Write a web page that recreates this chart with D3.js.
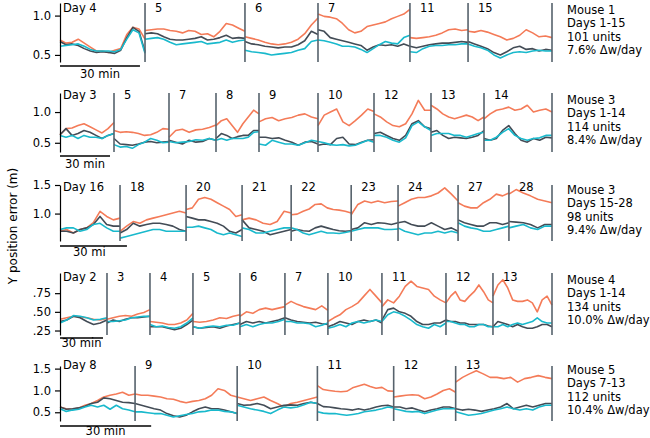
<!DOCTYPE html>
<html lang="en">
<head>
<meta charset="UTF-8">
<title>Y position error across recording days</title>
<script src="https://d3js.org/d3.v7.min.js"></script>
<style>
  body { margin: 0; background: #fff; }
  text { font-family: "DejaVu Sans", sans-serif; font-size: 11.5px; fill: #000; }
  .axis path, .axis line { stroke: #000; stroke-width: 1.2px; }
  .axis text { font-size: 11.5px; }
  .divider { stroke: #56626c; stroke-width: 1.6px; }
  .trace { fill: none; stroke-width: 1.6px; stroke-linejoin: round; }
  .scalebar { stroke: #000; stroke-width: 1.5px; }
</style>
</head>
<body>
<script>
// ---- data: one block per mouse / row ----
// day labels, session length (min), then one array of samples per session

const m1Days = ["Day 4", "5", "6", "7", "11", "15"];
const m1Minutes = [31.9, 37.5, 27.4, 34.5, 21.8, 31.5];
const m1Orange = [
  [0.69,0.65,0.66,0.70,0.65,0.60,0.55,0.55,0.53,0.56,0.58,0.76,0.85,0.83,0.70],
  [0.81,0.82,0.83,0.83,0.81,0.80,0.78,0.81,0.80,0.76,0.77,0.73,0.80,0.90,0.88,0.84,0.80],
  [0.73,0.71,0.69,0.66,0.64,0.63,0.64,0.66,0.70,0.77,0.88,0.97],
  [1.02,0.99,0.98,0.96,0.90,0.82,0.78,0.80,0.86,0.88,0.90,0.92,0.96,0.99,1.02,1.08],
  [0.72,0.71,0.72,0.73,0.75,0.78,0.82,0.83,0.81,0.82],
  [0.80,0.79,0.81,0.79,0.76,0.73,0.69,0.71,0.75,0.82,0.78,0.73,0.74,0.72]
];
const m1Slate = [
  [0.67,0.63,0.64,0.62,0.58,0.55,0.53,0.54,0.53,0.52,0.56,0.72,0.85,0.80,0.54],
  [0.77,0.78,0.77,0.73,0.70,0.69,0.69,0.70,0.71,0.73,0.69,0.70,0.72,0.75,0.71,0.72,0.71],
  [0.67,0.64,0.63,0.61,0.60,0.59,0.60,0.60,0.63,0.68,0.80,0.76],
  [0.82,0.80,0.72,0.70,0.68,0.66,0.64,0.62,0.56,0.60,0.63,0.62,0.63,0.61,0.64,0.61],
  [0.61,0.59,0.61,0.63,0.64,0.65,0.65,0.66,0.67,0.66],
  [0.67,0.64,0.61,0.58,0.53,0.50,0.54,0.59,0.61,0.57,0.58,0.55,0.57,0.56]
];
const m1Cyan = [
  [0.61,0.62,0.63,0.64,0.61,0.57,0.55,0.55,0.55,0.54,0.57,0.70,0.82,0.78,0.52],
  [0.70,0.71,0.72,0.70,0.66,0.63,0.64,0.65,0.66,0.67,0.64,0.65,0.66,0.69,0.66,0.68,0.69],
  [0.56,0.54,0.53,0.52,0.50,0.51,0.52,0.53,0.56,0.58,0.67,0.69],
  [0.69,0.68,0.66,0.64,0.61,0.61,0.60,0.57,0.53,0.58,0.63,0.67,0.65,0.64,0.72,0.75],
  [0.54,0.53,0.58,0.61,0.62,0.62,0.63,0.63,0.64,0.64],
  [0.64,0.61,0.59,0.56,0.50,0.46,0.50,0.53,0.54,0.53,0.55,0.56,0.55,0.55]
];
const m1Ticks = [0.5, 1.0];
const m1TickLabels = ["0.5", "1.0"];
const m1Info = ["Mouse 1", "Days 1-15", "101 units", "7.6% Δw/day"];

const m2Days = ["Day 3", "5", "7", "8", "9", "10", "12", "13", "14"];
const m2Minutes = [32.4, 33.0, 28.2, 25.8, 35.4, 33.6, 34.2, 31.8, 40.8];
const m2Orange = [
  [0.63,0.73,0.74,0.78,0.81,0.76,0.71,0.66,0.73,0.83],
  [0.70,0.67,0.68,0.67,0.65,0.62,0.63,0.67,0.73,0.72],
  [0.59,0.70,0.72,0.67,0.71,0.72,0.75,0.79],
  [0.78,0.86,0.89,0.78,0.67,0.81,0.92,1.03,0.97],
  [0.84,0.89,0.91,0.86,0.89,0.91,0.95,0.97,0.92,0.89],
  [0.78,0.95,1.00,1.05,0.84,0.78,0.86,0.95,1.05,1.01],
  [0.97,0.92,0.84,0.78,0.76,0.81,0.97,1.19,1.03,1.03],
  [1.11,1.05,0.97,0.92,0.89,0.92,0.95,0.92,0.86,0.92],
  [0.89,0.97,1.03,1.05,1.08,1.03,1.05,1.11,1.00,1.03,1.05,1.00]
];
const m2Slate = [
  [0.63,0.73,0.62,0.65,0.70,0.67,0.62,0.57,0.62,0.65],
  [0.57,0.48,0.47,0.46,0.48,0.51,0.52,0.50,0.51,0.52],
  [0.54,0.51,0.48,0.54,0.51,0.52,0.57,0.54],
  [0.57,0.65,0.62,0.57,0.60,0.62,0.62,0.70,0.70],
  [0.59,0.59,0.57,0.58,0.54,0.51,0.46,0.51,0.52,0.48],
  [0.46,0.48,0.47,0.57,0.59,0.48,0.47,0.51,0.54,0.55],
  [0.65,0.67,0.62,0.57,0.54,0.62,0.81,0.86,0.76,0.73],
  [0.67,0.70,0.62,0.57,0.59,0.58,0.57,0.59,0.62,0.70],
  [0.57,0.54,0.57,0.70,0.78,0.65,0.54,0.51,0.57,0.54,0.59,0.58]
];
const m2Cyan = [
  [0.62,0.59,0.62,0.57,0.62,0.59,0.59,0.57,0.62,0.65],
  [0.47,0.43,0.44,0.41,0.47,0.51,0.57,0.54,0.50,0.51],
  [0.52,0.50,0.51,0.52,0.55,0.54,0.57,0.54],
  [0.54,0.57,0.54,0.57,0.57,0.57,0.59,0.67,0.68],
  [0.48,0.46,0.54,0.51,0.48,0.48,0.46,0.50,0.54,0.52],
  [0.52,0.50,0.47,0.46,0.47,0.45,0.46,0.50,0.54,0.51],
  [0.62,0.62,0.59,0.54,0.51,0.58,0.78,0.84,0.76,0.70],
  [0.62,0.65,0.65,0.65,0.62,0.62,0.59,0.62,0.65,0.67],
  [0.54,0.54,0.59,0.67,0.73,0.62,0.57,0.54,0.57,0.58,0.62,0.62]
];
const m2Ticks = [0.5, 1.0];
const m2TickLabels = ["0.5", "1.0"];
const m2Info = ["Mouse 3", "Days 1-14", "114 units", "8.4% Δw/day"];

const m3Days = ["Day 16", "18", "20", "21", "22", "23", "24", "27", "28"];
const m3Minutes = [26.9, 29.6, 25.1, 22.0, 26.9, 21.0, 26.9, 22.8, 19.3];
const m3Orange = [
  [0.69,0.72,0.66,0.72,0.75,0.84,1.04,0.95,0.89,0.92],
  [0.69,0.78,0.86,0.83,0.89,0.92,0.95,0.98,1.01,1.04,1.01],
  [1.07,1.10,1.25,1.28,1.25,1.19,1.13,1.07,0.95,0.98],
  [0.89,0.92,0.89,0.83,0.81,0.86,1.04,1.01],
  [0.98,0.99,1.04,1.08,1.16,1.17,1.10,1.07,1.06,1.04,1.01],
  [0.98,1.16,1.22,1.19,1.22,1.19,1.21,1.22],
  [1.13,1.19,1.25,1.28,1.28,1.31,1.36,1.45,1.34,1.22],
  [1.19,1.13,1.10,1.10,1.19,1.25,1.34,1.31,1.36],
  [1.34,1.42,1.36,1.31,1.25,1.22,1.19]
];
const m3Slate = [
  [0.69,0.69,0.66,0.72,0.75,0.81,0.95,0.81,0.78,0.78],
  [0.66,0.72,0.83,0.78,0.81,0.83,0.83,0.81,0.78,0.72,0.69],
  [0.95,0.92,0.89,0.89,0.86,0.83,0.78,0.69,0.66,0.72],
  [0.89,0.75,0.72,0.69,0.63,0.66,0.69,0.72],
  [0.69,0.72,0.70,0.69,0.75,0.78,0.75,0.72,0.70,0.69,0.70],
  [0.72,0.75,0.84,0.81,0.84,0.83,0.81,0.84],
  [0.84,0.86,0.81,0.78,0.78,0.84,0.78,0.72,0.75,0.69],
  [0.89,0.84,0.81,0.78,0.78,0.84,0.84,0.81,0.84],
  [0.86,0.85,0.84,0.81,0.75,0.81,0.81]
];
const m3Cyan = [
  [0.72,0.75,0.75,0.69,0.72,0.81,0.83,0.75,0.69,0.69],
  [0.57,0.60,0.63,0.66,0.69,0.72,0.72,0.69,0.69,0.69,0.69],
  [0.76,0.76,0.78,0.75,0.72,0.66,0.63,0.66,0.63,0.60],
  [0.75,0.72,0.66,0.66,0.69,0.72,0.75,0.75],
  [0.75,0.72,0.66,0.63,0.66,0.69,0.66,0.66,0.65,0.67,0.69],
  [0.69,0.72,0.75,0.75,0.75,0.72,0.72,0.73],
  [0.75,0.69,0.66,0.63,0.66,0.66,0.69,0.66,0.69,0.66],
  [0.84,0.78,0.75,0.73,0.69,0.69,0.72,0.75,0.78],
  [0.75,0.78,0.81,0.75,0.72,0.78,0.78]
];
const m3Ticks = [1.0, 1.5];
const m3TickLabels = ["1.0", "1.5"];
const m3Info = ["Mouse 3", "Days 15-28", "98 units", "9.4% Δw/day"];

const m4Days = ["Day 2", "3", "4", "5", "6", "7", "10", "11", "12", "13"];
const m4Minutes = [32.8, 30.0, 30.0, 32.8, 31.4, 30.0, 37.7, 44.7, 32.8, 41.2];
const m4Orange = [
  [0.40,0.42,0.44,0.43,0.42,0.40,0.39,0.41],
  [0.40,0.42,0.44,0.45,0.44,0.47,0.49,0.53],
  [0.37,0.36,0.35,0.33,0.33,0.35,0.39,0.48],
  [0.37,0.36,0.37,0.39,0.42,0.41,0.44,0.46],
  [0.44,0.50,0.48,0.53,0.55,0.53,0.55,0.57],
  [0.59,0.64,0.60,0.57,0.55,0.53,0.58,0.52],
  [0.37,0.42,0.46,0.53,0.57,0.62,0.71,0.80,0.71,0.62],
  [0.57,0.66,0.62,0.71,0.84,0.91,0.84,0.82,0.80,0.71,0.66,0.62],
  [0.62,0.71,0.77,0.66,0.64,0.71,0.77,0.86,0.77,0.66,0.62],
  [0.71,0.86,0.93,0.82,0.66,0.64,0.64,0.66,0.62,0.50,0.66,0.71,0.59]
];
const m4Slate = [
  [0.37,0.39,0.44,0.42,0.37,0.33,0.35,0.39],
  [0.35,0.39,0.37,0.40,0.42,0.42,0.43,0.44],
  [0.30,0.30,0.30,0.28,0.26,0.28,0.33,0.39],
  [0.30,0.28,0.29,0.30,0.28,0.31,0.33,0.35],
  [0.33,0.37,0.35,0.37,0.35,0.37,0.39,0.42],
  [0.42,0.39,0.37,0.36,0.35,0.36,0.34,0.33],
  [0.30,0.33,0.37,0.35,0.33,0.37,0.39,0.37,0.39,0.35],
  [0.39,0.53,0.55,0.50,0.48,0.44,0.37,0.33,0.33,0.35,0.35,0.39],
  [0.39,0.37,0.37,0.35,0.35,0.33,0.33,0.33,0.33,0.31,0.30],
  [0.30,0.37,0.35,0.33,0.30,0.33,0.30,0.28,0.28,0.30,0.33,0.33,0.30]
];
const m4Cyan = [
  [0.35,0.39,0.45,0.44,0.42,0.39,0.40,0.42],
  [0.37,0.37,0.38,0.39,0.42,0.43,0.44,0.44],
  [0.33,0.30,0.31,0.29,0.28,0.30,0.35,0.42],
  [0.30,0.28,0.30,0.31,0.30,0.32,0.32,0.35],
  [0.30,0.33,0.30,0.33,0.35,0.35,0.37,0.40],
  [0.37,0.37,0.35,0.35,0.34,0.30,0.32,0.35],
  [0.28,0.30,0.33,0.30,0.35,0.37,0.35,0.37,0.39,0.37],
  [0.37,0.46,0.50,0.48,0.44,0.39,0.33,0.30,0.28,0.33,0.30,0.35],
  [0.37,0.37,0.35,0.33,0.33,0.30,0.30,0.33,0.33,0.30,0.30],
  [0.30,0.30,0.33,0.30,0.33,0.35,0.33,0.35,0.37,0.42,0.37,0.35,0.35]
];
const m4Ticks = [0.25, 0.5, 0.75];
const m4TickLabels = [".25", ".50", ".75"];
const m4Info = ["Mouse 4", "Days 1-14", "134 units", "10.0% Δw/day"];

const m5Days = ["Day 8", "9", "10", "11", "12", "13"];
const m5Minutes = [24.7, 33.6, 26.4, 25.1, 20.4, 31.7];
const m5Orange = [
  [0.62,0.58,0.57,0.60,0.66,0.70,0.77,0.85,0.89,0.92,0.96,0.89,0.92],
  [0.92,0.89,0.89,0.87,0.85,0.81,0.80,0.75,0.72,0.75,0.77,0.81,0.89,1.04,1.00,0.89,0.85],
  [0.85,0.81,0.77,0.81,0.85,0.77,0.70,0.62,0.70,0.73,0.77,0.81,0.85],
  [1.11,1.02,1.00,0.98,0.97,0.98,1.06,1.10,1.14,1.09,1.05,1.07,0.99,0.98],
  [0.85,0.87,0.89,0.90,0.89,0.81,0.85,0.92,1.00,1.04,0.96],
  [1.19,1.30,1.38,1.45,1.38,1.30,1.30,1.27,1.30,1.19,1.27,1.30,1.34,1.30,1.27]
];
const m5Slate = [
  [0.62,0.57,0.58,0.60,0.64,0.70,0.73,0.83,0.81,0.77,0.73,0.72,0.70],
  [0.70,0.66,0.62,0.58,0.55,0.47,0.42,0.39,0.43,0.51,0.58,0.62,0.58,0.58,0.55,0.51,0.47],
  [0.70,0.66,0.67,0.70,0.66,0.58,0.62,0.66,0.67,0.66,0.70,0.73,0.70],
  [0.70,0.63,0.62,0.60,0.58,0.57,0.55,0.58,0.55,0.58,0.62,0.65,0.66,0.62],
  [0.62,0.62,0.58,0.60,0.55,0.51,0.55,0.58,0.62,0.62,0.58],
  [0.58,0.55,0.57,0.55,0.52,0.55,0.58,0.62,0.70,0.58,0.62,0.66,0.62,0.66,0.70,0.70]
];
const m5Cyan = [
  [0.58,0.52,0.55,0.57,0.62,0.66,0.62,0.66,0.57,0.66,0.58,0.55,0.51],
  [0.51,0.51,0.49,0.47,0.47,0.43,0.39,0.42,0.45,0.47,0.51,0.52,0.55,0.55,0.52,0.51,0.47],
  [0.66,0.62,0.58,0.55,0.52,0.47,0.55,0.62,0.60,0.62,0.67,0.73,0.70],
  [0.51,0.48,0.47,0.47,0.45,0.43,0.45,0.47,0.51,0.53,0.55,0.58,0.62,0.60],
  [0.58,0.55,0.52,0.51,0.52,0.47,0.51,0.55,0.58,0.58,0.58],
  [0.51,0.47,0.43,0.45,0.47,0.51,0.55,0.58,0.62,0.58,0.55,0.58,0.55,0.62,0.66,0.66]
];
const m5Ticks = [0.5, 1.0, 1.5];
const m5TickLabels = ["0.5", "1.0", "1.5"];
const m5Info = ["Mouse 5", "Days 7-13", "112 units", "10.4% Δw/day"];

// ---- layout ----
const width = 650, height = 438;
const left = 60, right = 552;
const infoX = 567, lineGap = 13.3;
const colors = { orange: "#f47b58", slate: "#434c56", cyan: "#19b9cc" };

// pixel rows and y ranges for the five rows
const layout = [
  { top: 3,   bottom: 62,  domain: [0.41, 1.16], dayY: 8,   bar: 66,  barText: 78,  info: 14,  barLabel: "30 min" },
  { top: 93,  bottom: 152, domain: [0.35, 1.31], dayY: 95,  bar: 156, barText: 168, info: 104, barLabel: "30 min" },
  { top: 185, bottom: 241, domain: [0.52, 1.50], dayY: 187, bar: 246, barText: 256, info: 194, barLabel: "30 mi" },
  { top: 273, bottom: 335, domain: [0.19, 1.02], dayY: 277, bar: 338, barText: 347, info: 284, barLabel: "30 min" },
  { top: 366, bottom: 421, domain: [0.30, 1.56], dayY: 365, bar: 426, barText: 435, info: 374, barLabel: "30 min" }
];

const rows = [
  { days: m1Days, minutes: m1Minutes, orange: m1Orange, slate: m1Slate, cyan: m1Cyan, ticks: m1Ticks, tickLabels: m1TickLabels, info: m1Info },
  { days: m2Days, minutes: m2Minutes, orange: m2Orange, slate: m2Slate, cyan: m2Cyan, ticks: m2Ticks, tickLabels: m2TickLabels, info: m2Info },
  { days: m3Days, minutes: m3Minutes, orange: m3Orange, slate: m3Slate, cyan: m3Cyan, ticks: m3Ticks, tickLabels: m3TickLabels, info: m3Info },
  { days: m4Days, minutes: m4Minutes, orange: m4Orange, slate: m4Slate, cyan: m4Cyan, ticks: m4Ticks, tickLabels: m4TickLabels, info: m4Info },
  { days: m5Days, minutes: m5Minutes, orange: m5Orange, slate: m5Slate, cyan: m5Cyan, ticks: m5Ticks, tickLabels: m5TickLabels, info: m5Info }
];

const svg = d3.select("body").append("svg")
    .attr("width", width)
    .attr("height", height);

rows.forEach((row, r) => {
  const box = layout[r];
  const starts = d3.cumsum([0].concat(row.minutes));   // session boundaries in minutes
  const total = starts[starts.length - 1];

  const x = d3.scaleLinear().domain([0, total]).range([left, right]);
  const y = d3.scaleLinear().domain(box.domain).range([box.bottom, box.top]);

  const g = svg.append("g");

  // traces, one path per session so they break at each divider
  ["orange", "slate", "cyan"].forEach(key => {
    row[key].forEach((vals, s) => {
      const t0 = starts[s], dur = row.minutes[s];
      const line = d3.line()
          .x((d, i) => x(t0 + dur * i / (vals.length - 1)))
          .y(d => y(d));
      g.append("path")
          .attr("class", "trace")
          .attr("stroke", colors[key])
          .attr("d", line(vals));
    });
  });

  // session dividers (right edge of each session)
  g.selectAll("line.divider")
    .data(starts.slice(1))
    .enter().append("line")
      .attr("class", "divider")
      .attr("x1", d => x(d)).attr("x2", d => x(d))
      .attr("y1", box.top).attr("y2", box.bottom);

  // day labels
  g.selectAll("text.day")
    .data(row.days)
    .enter().append("text")
      .attr("class", "day")
      .attr("x", (d, i) => x(starts[i]) + (i === 0 ? 3 : 10))
      .attr("y", box.dayY)
      .attr("dy", "0.35em")
      .text(d => d);

  // y axis
  const axis = d3.axisLeft(y)
      .tickValues(row.ticks)
      .tickFormat((d, i) => row.tickLabels[i])
      .tickSize(5)
      .tickSizeOuter(0)
      .tickPadding(4);
  g.append("g")
      .attr("class", "axis")
      .attr("transform", `translate(${left},0)`)
      .call(axis)
      .call(a => a.selectAll("text").attr("fill", "#000").style("font-family", "DejaVu Sans, sans-serif"));

  // 30 min scale bar
  g.append("line")
      .attr("class", "scalebar")
      .attr("x1", x(0)).attr("x2", x(30))
      .attr("y1", box.bar).attr("y2", box.bar);
  if (box.barLabel === "30 min") {
    g.append("text")
        .attr("x", (x(0) + x(30)) / 2)
        .attr("y", box.barText)
        .attr("text-anchor", "middle")
        .text(box.barLabel);
  } else {
    g.append("text")
        .attr("x", 73)
        .attr("y", box.barText)
        .text(box.barLabel);
  }

  // mouse info on the right
  g.selectAll("text.info")
    .data(row.info)
    .enter().append("text")
      .attr("class", "info")
      .attr("x", infoX)
      .attr("y", (d, i) => box.info + i * lineGap)
      .text(d => d);
});

svg.append("text")
    .attr("transform", "translate(17,226) rotate(-90)")
    .attr("text-anchor", "middle")
    .style("font-size", "12px")
    .text("Y position error (m)");
</script>
</body>
</html>
